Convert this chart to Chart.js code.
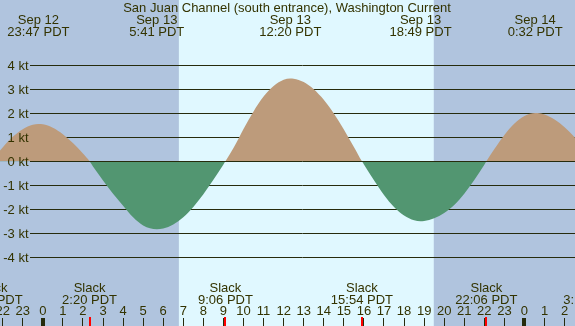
<!DOCTYPE html>
<html>
<head>
<meta charset="utf-8">
<script src="https://cdn.jsdelivr.net/npm/chart.js@4"></script>
<style>
  body { margin: 0; background: #b0c4de; }
  #wrap { width: 575px; height: 326px; }
</style>
</head>
<body>
<div id="wrap"><canvas id="current-chart" width="575" height="326"></canvas></div>
<script>
// hours from Sep 13 00:00 PDT, current speed in knots (flood +, ebb -)
const currentHours = [-3, -2.57, -2.5, -2, -1.5, -1, -0.5, -0.22, 0, 0.5, 1, 1.5, 2, 2.33, 2.5, 3, 3.5, 4, 4.5, 5, 5.68,
    6, 6.5, 7, 7.5, 8, 8.5, 9, 9.1, 9.5, 10, 10.5, 11, 11.5, 12, 12.33, 12.5, 13, 13.5, 14, 14.5, 15, 15.5, 15.9,
    16, 16.5, 17, 17.5, 18, 18.5, 18.82, 19, 19.5, 20, 20.5, 21, 21.5, 22, 22.1, 22.5, 23, 23.5, 24, 24.53,
    25, 25.5, 26, 26.5, 27, 27.47];
const currentKnots = [-0.45, 0, 0.07, 0.58, 1.02, 1.34, 1.52, 1.55, 1.54, 1.40, 1.13, 0.76, 0.32, 0, -0.22, -0.80, -1.35, -1.85, -2.33, -2.67, -2.83,
    -2.80, -2.63, -2.33, -1.90, -1.37, -0.77, -0.13, 0, 0.55, 1.35, 2.08, 2.70, 3.14, 3.40, 3.45, 3.44, 3.30, 3.00, 2.56, 1.99, 1.33, 0.60, 0,
    -0.13, -0.79, -1.40, -1.90, -2.26, -2.46, -2.50, -2.49, -2.37, -2.15, -1.82, -1.35, -0.78, -0.14, 0, 0.51, 1.10, 1.58, 1.89, 2.01,
    1.95, 1.74, 1.42, 1.00, 0.50, 0];

// max current events (top labels)
const maxHours = [-0.22, 5.68, 12.33, 18.82, 24.53];
const maxDates = ['Sep 12', 'Sep 13', 'Sep 13', 'Sep 13', 'Sep 14'];
const maxTimes = ['23:47 PDT', '5:41 PDT', '12:20 PDT', '18:49 PDT', '0:32 PDT'];

// slack events (bottom labels + red ticks)
const slackHours = [-2.55, 2.33, 9.1, 15.9, 22.1, 27.3];
const slackTimes = ['20:27 PDT', '2:20 PDT', '9:06 PDT', '15:54 PDT', '22:06 PDT', '3:18 PDT'];

const hourTicks = [-2, -1, 0, 1, 2, 3, 4, 5, 6, 7, 8, 9, 10, 11, 12, 13, 14, 15, 16, 17, 18, 19, 20, 21, 22, 23, 24, 25, 26];
const hourLabels = ['22', '23', '0', '1', '2', '3', '4', '5', '6', '7', '8', '9', '10', '11', '12', '13', '14', '15', '16', '17', '18', '19', '20', '21', '22', '23', '0', '1', '2'];

const knotTicks = [4, 3, 2, 1, 0, -1, -2, -3, -4];
const knotLabels = ['4 kt', '3 kt', '2 kt', '1 kt', '0 kt', '-1 kt', '-2 kt', '-3 kt', '-4 kt'];

const sunrise = 6.78, sunset = 19.48;
const titleText = 'San Juan Channel (south entrance), Washington Current';

const nightColor = '#b0c4de';
const dayColor = '#e0f8ff';
const inkColor = '#333300';
const lineColor = '#262b0c';
const font = '13px "Liberation Sans", Arial, sans-serif';

function drawGridLine(ctx, y, width) {
    const yy = Math.round(y) + 0.5;
    ctx.beginPath();
    ctx.moveTo(30, yy);
    ctx.lineTo(width, yy);
    ctx.stroke();
}

const tideDecor = {
    id: 'tideDecor',
    beforeDatasetsDraw(chart) {
        const {ctx, width, height, scales: {x, y}} = chart;
        ctx.save();
        ctx.fillStyle = nightColor;
        ctx.fillRect(0, 0, width, height);
        const x1 = x.getPixelForValue(sunrise), x2 = x.getPixelForValue(sunset);
        ctx.fillStyle = dayColor;
        ctx.fillRect(x1, 0, x2 - x1, height);

        ctx.strokeStyle = lineColor;
        ctx.lineWidth = 1;
        for (let k of knotTicks) {
            if (k !== 0) drawGridLine(ctx, y.getPixelForValue(k), width);
        }
        ctx.restore();
    },
    afterDatasetsDraw(chart) {
        const {ctx, width, scales: {x, y}} = chart;
        ctx.save();
        ctx.strokeStyle = lineColor;
        ctx.lineWidth = 1;
        drawGridLine(ctx, y.getPixelForValue(0), width);

        ctx.font = font;
        ctx.fillStyle = inkColor;
        ctx.textBaseline = 'alphabetic';

        // y labels
        ctx.textAlign = 'right';
        knotTicks.forEach((k, i) => {
            ctx.fillText(knotLabels[i], 28.5, y.getPixelForValue(k) + 4.8);
        });

        ctx.textAlign = 'center';
        ctx.fillText(titleText, 287, 11.7);

        // max events
        maxHours.forEach((h, i) => {
            const px = x.getPixelForValue(h);
            ctx.fillText(maxDates[i], px, 24);
            ctx.fillText(maxTimes[i], px, 36);
        });

        // slack events
        slackHours.forEach((h, i) => {
            const px = x.getPixelForValue(h);
            ctx.fillText('Slack', px, 292.3);
            ctx.fillText(slackTimes[i], px, 304.3);
        });

        // hour ticks
        hourTicks.forEach((h, i) => {
            const px = x.getPixelForValue(h);
            ctx.fillText(hourLabels[i], px, 315.3);
            ctx.fillStyle = lineColor;
            if (hourLabels[i] === '0') {
                ctx.fillRect(Math.round(px) - 2, 318, 4, 8);
            } else {
                ctx.fillRect(Math.round(px - 0.5), 318, 1, 8);
            }
            ctx.fillStyle = inkColor;
        });

        ctx.fillStyle = '#ff0000';
        slackHours.forEach((h) => {
            const px = x.getPixelForValue(h);
            ctx.fillRect(Math.round(px) - 1, 317, 2, 9);
        });
        ctx.restore();
    }
};

const currentData = {
    datasets: [
        {
            label: 'current',
            data: currentHours.map((h, i) => ({x: h, y: currentKnots[i]})),
            borderWidth: 0,
            borderColor: 'rgba(0,0,0,0)',
            pointRadius: 0,
            cubicInterpolationMode: 'monotone',
            fill: {
                target: {value: 0},
                above: 'rgb(189,155,123)',
                below: 'rgb(82,150,113)'
            }
        }
    ]
};

const currentConfig = {
    type: 'line',
    data: currentData,
    options: {
        responsive: false,
        animation: false,
        devicePixelRatio: 1,
        layout: {padding: 0},
        plugins: {
            legend: {display: false},
            tooltip: {enabled: false},
            title: {display: false}
        },
        scales: {
            x: {type: 'linear', min: -2.133, max: 26.517, display: false},
            y: {type: 'linear', min: -6.8625, max: 6.721, display: false}
        }
    },
    plugins: [tideDecor]
};

const currentChart = new Chart(
    document.getElementById('current-chart'),
    currentConfig
);
</script>
</body>
</html>
